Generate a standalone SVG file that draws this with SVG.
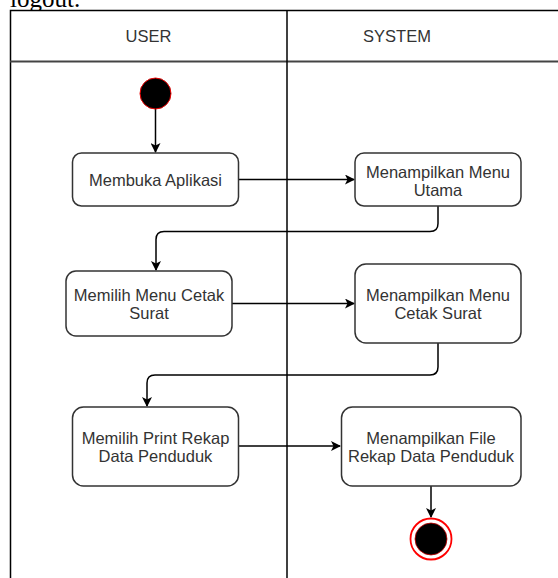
<svg xmlns="http://www.w3.org/2000/svg" width="558" height="578" viewBox="0 0 558 578">
<style>
.lbl{font-family:"Liberation Sans",Arial,sans-serif;font-size:16.5px;fill:#333;text-anchor:middle}
.box{fill:#fff;stroke:#333;stroke-width:1.5}
.edge{fill:none;stroke:#000;stroke-width:1.5}
</style>
<defs>
<marker id="arr" viewBox="0 0 10 10" refX="9" refY="5" markerWidth="10" markerHeight="10" markerUnits="userSpaceOnUse" orient="auto">
<path d="M0,0 L10,5 L0,10 L2.5,5 Z" fill="#000"/>
</marker>
</defs>
<rect width="558" height="578" fill="#fff"/>
<text x="10" y="7" font-family="'Liberation Serif',serif" font-size="25" fill="#000">logout.</text>
<g id="lanes">
<rect x="10.5" y="10.5" width="560" height="580" fill="#fff" stroke="#000" stroke-width="1.5"/>
<line x1="10" y1="61.5" x2="558" y2="61.5" stroke="#444" stroke-width="1.8"/>
<line x1="287" y1="10" x2="287" y2="578" stroke="#000" stroke-width="1.5"/>
<text class="lbl" x="148.5" y="42">USER</text>
<text class="lbl" x="397" y="42">SYSTEM</text>
</g>
<g id="connectors">
<path class="edge" d="M155.5,109 V152" marker-end="url(#arr)"/>
<path class="edge" d="M238,179.5 H354" marker-end="url(#arr)"/>
<path class="edge" d="M438,206 V223.5 Q438,231.5 430,231.5 H164 Q156,231.5 156,239.5 V270" marker-end="url(#arr)"/>
<path class="edge" d="M232,303.5 H354" marker-end="url(#arr)"/>
<path class="edge" d="M438,343 V367 Q438,375 430,375 H155 Q147,375 147,383 V406" marker-end="url(#arr)"/>
<path class="edge" d="M238,446 H340" marker-end="url(#arr)"/>
<path class="edge" d="M431,486 V517" marker-end="url(#arr)"/>
</g>
<g id="start">
<circle cx="155.5" cy="93.5" r="15.5" fill="#000" stroke="#e00" stroke-width="1"/>
</g>
<g id="n1">
<rect class="box" x="72.5" y="153" width="166" height="53" rx="9"/>
<text class="lbl" x="155.5" y="186">Membuka Aplikasi</text>
</g>
<g id="n2">
<rect class="box" x="355" y="153" width="166" height="53" rx="9"/>
<text class="lbl" x="438" y="177.5">Menampilkan Menu</text>
<text class="lbl" x="438" y="196">Utama</text>
</g>
<g id="n3">
<rect class="box" x="66" y="271" width="166" height="65" rx="10"/>
<text class="lbl" x="149" y="301">Memilih Menu Cetak</text>
<text class="lbl" x="149" y="319.3">Surat</text>
</g>
<g id="n4">
<rect class="box" x="355" y="264" width="166" height="79" rx="11"/>
<text class="lbl" x="438" y="301">Menampilkan Menu</text>
<text class="lbl" x="438" y="319.3">Cetak Surat</text>
</g>
<g id="n5">
<rect class="box" x="72.5" y="407" width="166" height="79" rx="11"/>
<text class="lbl" x="155.5" y="443.7">Memilih Print Rekap</text>
<text class="lbl" x="155.5" y="461.7">Data Penduduk</text>
</g>
<g id="n6">
<rect class="box" x="341.5" y="407" width="179.5" height="79" rx="11"/>
<text class="lbl" x="431" y="443.7">Menampilkan File</text>
<text class="lbl" x="431" y="461.7">Rekap Data Penduduk</text>
</g>
<g id="end">
<circle cx="431" cy="539" r="20.5" fill="#fff" stroke="#f00" stroke-width="1.8"/>
<circle cx="431" cy="539" r="16" fill="#000" stroke="#c00" stroke-width="0.8"/>
</g>
</svg>
